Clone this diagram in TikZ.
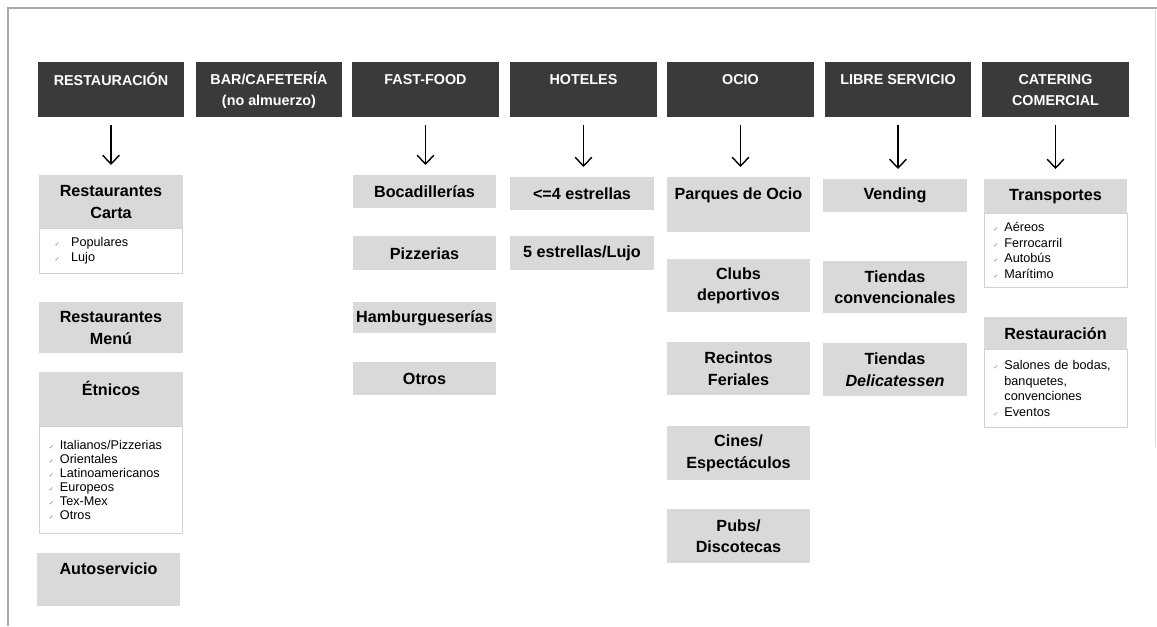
\documentclass[tikz,border=0pt]{standalone}
\usepackage{fontspec}
\setmainfont{Liberation Sans}
\newfontfamily\symfont{DejaVu Sans}
\usetikzlibrary{arrows.meta}
\definecolor{headgray}{HTML}{3A3A3A}
\definecolor{boxgray}{HTML}{D9D9D9}
\definecolor{linegray}{HTML}{D2D2D2}
\definecolor{framegray}{HTML}{A8A8A8}
\newcommand{\tick}{{\symfont\fontsize{4.5}{4.5}\selectfont\textcolor{gray}{✓}}\hspace{4pt}}
\newcommand{\hang}{\phantom{\tick}}
\begin{document}
\begin{tikzpicture}[x=0.025cm, y=-0.025cm,
            head/.style={rectangle, fill=headgray, text=white, minimum width=3.65cm, minimum height=1.375cm, anchor=north, align=center, inner sep=2pt, font=\fontsize{10.2}{15}\selectfont\bfseries},
            cat/.style={rectangle, fill=boxgray, minimum width=3.575cm, anchor=north, align=center, inner sep=2pt, font=\fontsize{11.5}{15.5}\selectfont\bfseries},
            list/.style={rectangle, draw=linegray, fill=white, minimum width=3.575cm, text width=3.1cm, anchor=north, align=left, inner sep=2pt, font=\fontsize{9}{11}\selectfont},
            arrow/.style={-{Straight Barb[length=2.2mm,width=4.2mm]}, line width=1pt, shorten <=0.175cm, shorten >=0.25cm}
        ]
            \useasboundingbox (0,0) rectangle (1157,626);
            \draw[framegray, line width=1.2pt] (8,626) -- (8,8) -- (1157,8);
            \draw[framegray!40, line width=0.6pt] (1155,10) -- (1155,447);

            % headers
            \node[head] (restauracion) at (111,62) {RESTAURACIÓN\\~};
            \node[head] (bar) at (269,62) {BAR/CAFETERÍA\\(no almuerzo)};
            \node[head] (fastfood) at (425.5,62) {FAST-FOOD\\~};
            \node[head] (hoteles) at (583.5,62) {HOTELES\\~};
            \node[head] (ocio) at (740.5,62) {OCIO\\~};
            \node[head] (libre) at (898,62) {LIBRE SERVICIO\\~};
            \node[head] (catering) at (1055.5,62) {CATERING\\COMERCIAL};

            % restauracion
            \node[cat, minimum height=1.325cm] (carta) at (111,175) {Restaurantes\\Carta};
            \node[list, minimum height=1.125cm] (cartalist) at (111,228) {\hspace*{4pt}\tick\hspace{4pt}Populares\\\hspace*{4pt}\tick\hspace{4pt}Lujo};
            \node[cat, minimum height=1.275cm] (menu) at (111,302) {Restaurantes\\Menú};
            \node[cat, minimum height=1.35cm] (etnicos) at (111,372) {Étnicos\\~};
            \node[list, minimum height=2.675cm, font=\fontsize{9}{10}\selectfont] (etnicoslist) at (111,426) {\tick Italianos/Pizzerias\\\tick Orientales\\\tick Latinoamericanos\\\tick Europeos\\\tick Tex-Mex\\\tick Otros};
            \node[cat, minimum height=1.325cm] (autoservicio) at (108.5,553) {Autoservicio\\~};

            % fast-food
            \node[cat, minimum height=0.825cm] (bocadillerias) at (424.5,175) {Bocadillerías};
            \node[cat, minimum height=0.85cm] (pizzerias) at (424.5,236) {Pizzerias};
            \node[cat, minimum height=0.775cm] (hamburgueserias) at (424.5,302) {Hamburgueserías};
            \node[cat, minimum height=0.825cm] (otros) at (424.5,362) {Otros};

            % hoteles
            \node[cat, minimum height=0.825cm] (cuatro) at (582,177) {<=4 estrellas};
            \node[cat, minimum height=0.85cm] (cinco) at (582,236) {5 estrellas/Lujo};

            % ocio
            \node[cat, minimum height=1.375cm] (parques) at (738.5,177) {Parques de Ocio\\~};
            \node[cat, minimum height=1.325cm] (clubs) at (738.5,259) {Clubs\\deportivos};
            \node[cat, minimum height=1.325cm] (recintos) at (738.5,342) {Recintos\\Feriales};
            \node[cat, minimum height=1.35cm] (cines) at (738.5,426) {Cines/\\Espectáculos};
            \node[cat, minimum height=1.35cm] (pubs) at (738.5,509) {Pubs/\\Discotecas};

            % libre servicio
            \node[cat, minimum height=0.825cm] (vending) at (895,179) {Vending};
            \node[cat, minimum height=1.3cm] (convencionales) at (895,261) {Tiendas\\convencionales};
            \node[cat, minimum height=1.325cm] (delicatessen) at (895,343) {Tiendas\\\textit{Delicatessen}};

            % catering
            \node[cat, minimum height=0.85cm] (transportes) at (1055.5,179) {Transportes};
            \node[list, minimum height=1.85cm] (transporteslist) at (1055.5,213) {\tick Aéreos\\\tick Ferrocarril\\\tick Autobús\\\tick Marítimo};
            \node[list, minimum height=1.95cm] (restcatlist) at (1055.5,349) {\tick Salones de bodas,\\\hang banquetes,\\\hang convenciones\\\tick Eventos};
            \node[cat, minimum height=0.8cm] (restcat) at (1055.5,317) {Restauración};

            \draw[arrow] (restauracion.south) -- (restauracion.south |- carta.north);
            \draw[arrow] (fastfood.south) -- (fastfood.south |- bocadillerias.north);
            \draw[arrow] (hoteles.south) -- (hoteles.south |- cuatro.north);
            \draw[arrow] (ocio.south) -- (ocio.south |- parques.north);
            \draw[arrow] (libre.south) -- (libre.south |- vending.north);
            \draw[arrow] (catering.south) -- (catering.south |- transportes.north);
        \end{tikzpicture}
\end{document}
